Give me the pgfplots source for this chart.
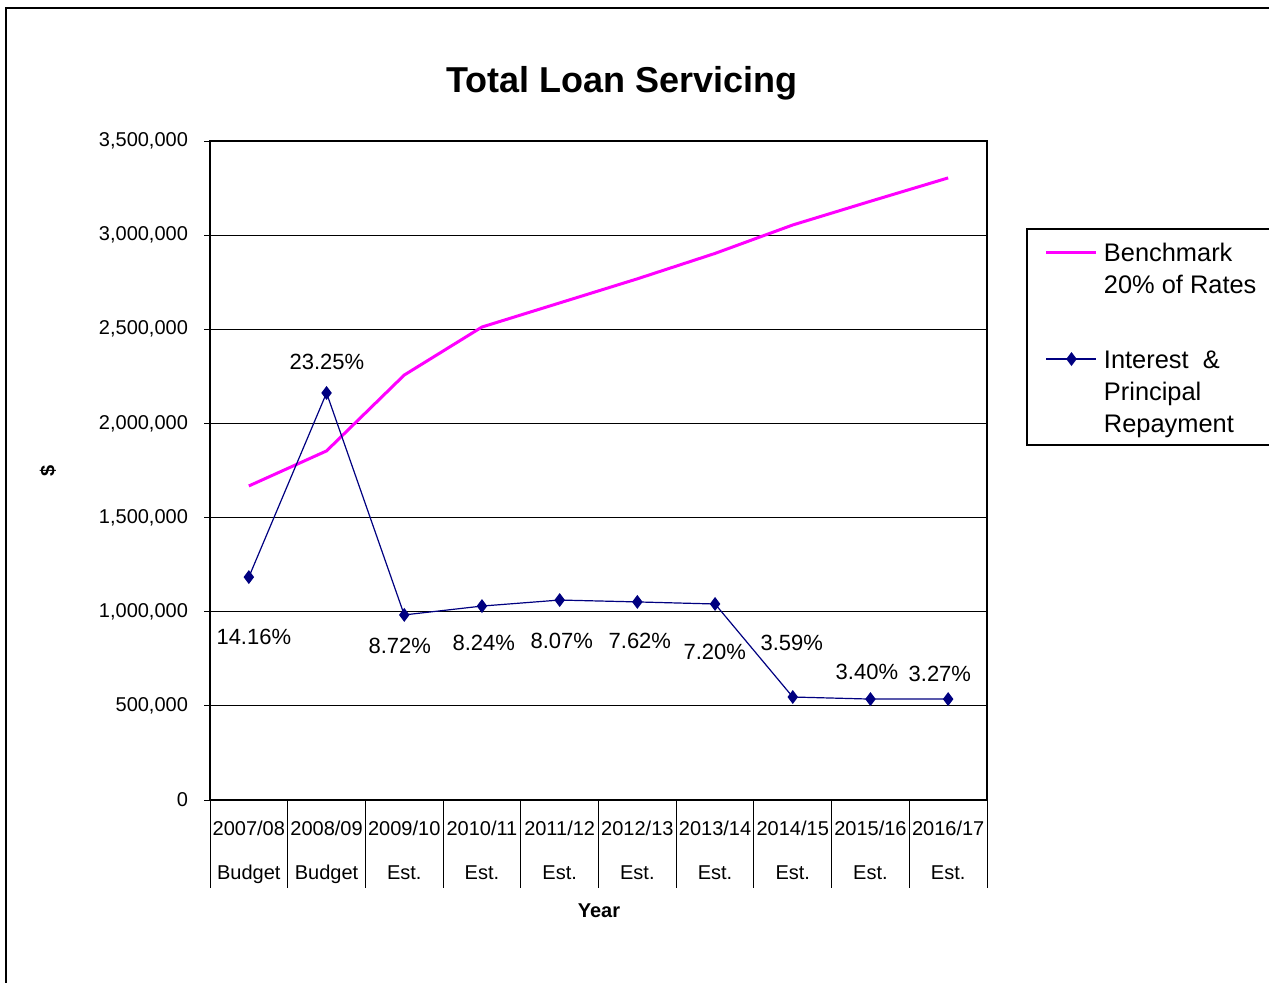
\documentclass[border=0pt]{standalone}
\usepackage{pgfplots}
\pgfplotsset{compat=1.18}
\usepackage{fontspec}
\setmainfont{Liberation Sans}
\definecolor{bench}{RGB}{255,0,255}
\definecolor{navyc}{RGB}{0,0,128}
\pgfplotsset{legend image code/.code={\draw[mark repeat=2,mark phase=2,#1] plot coordinates {(0pt,0pt) (12.5pt,0pt) (25pt,0pt)};}}
\begin{document}
\begin{tikzpicture}
\useasboundingbox (0,0) rectangle (634.5pt,-491.5pt);
% outer frame
\draw[black, line width=0.9pt] (3pt,-491.5pt) -- (3pt,-4pt) -- (634.5pt,-4pt);
\begin{axis}[
  at={(105pt,-400pt)}, anchor=south west,
  width=388.5pt, height=329.5pt, scale only axis,
  xmin=-0.5, xmax=9.5, ymin=0, ymax=3500000,
  xtick={0,1,2,3,4,5,6,7,8,9},
  xticklabels={{2007/08\\[10pt]Budget},{2008/09\\[10pt]Budget},{2009/10\\[10pt]Est.},{2010/11\\[10pt]Est.},{2011/12\\[10pt]Est.},{2012/13\\[10pt]Est.},{2013/14\\[10pt]Est.},{2014/15\\[10pt]Est.},{2015/16\\[10pt]Est.},{2016/17\\[10pt]Est.}},
  xticklabel style={align=center, font=\fontsize{10}{12}\selectfont, yshift=-4pt},
  ytick={0,500000,1000000,1500000,2000000,2500000,3000000,3500000},
  yticklabel style={font=\fontsize{10}{12}\selectfont, xshift=-4.5pt},
  /pgf/number format/.cd, fixed, 1000 sep={,}, assume math mode=true, /pgfplots/.cd,
  scaled y ticks=false,
  ymajorgrids, grid style={black, line width=0.5pt},
  axis line style={black, line width=0.8pt},
  tick align=outside, tick pos=left,
  xtick style={draw=none},
  ytick style={black, line width=0.5pt},
  major tick length=3pt,
  clip=false,
  legend cell align=left,
  legend style={at={(1.0746,0.8558)}, anchor=north west, draw=none, fill=none,
    inner sep=0pt, outer sep=0pt, row sep=0pt, column sep=3pt,
    font=\fontsize{12.7}{15}\selectfont,
    nodes={inner xsep=0pt, inner ysep=0.7pt, text height=11.8pt, text depth=2.8pt}},
]
\addplot[bench, line width=1.5pt, mark=none] table {
x y
0 1668000
1 1854000
2 2257000
3 2512000
4 2640000
5 2768000
6 2903000
7 3054000
8 3180000
9 3304000
};
\addlegendentry{Benchmark}
\addlegendimage{empty legend}\addlegendentry{20\% of Rates}
\addlegendimage{empty legend}\addlegendentry[text height=17.3pt]{}
\addplot[navyc, line width=0.6pt, mark=diamond*, mark size=3pt, mark options={solid, fill=navyc}] table {
x y
0 1184000
1 2162000
2 983000
3 1030000
4 1062000
5 1052000
6 1041000
7 547000
8 536000
9 536000
};
\addlegendentry{Interest \ \&}
\addlegendimage{empty legend}\addlegendentry{Principal}
\addlegendimage{empty legend}\addlegendentry{Repayment}
\addplot[draw=none, mark=none, forget plot, nodes near coords, point meta=explicit symbolic,
  nodes near coords style={anchor=center, inner sep=0pt, font=\fontsize{11}{13}\selectfont}] table[meta=label] {
x y label
0.064 865700 14.16\%
1.004 2326300 23.25\%
1.943 817900 8.72\%
3.024 833900 8.24\%
4.028 844500 8.07\%
5.032 844500 7.62\%
5.997 786100 7.20\%
6.988 833900 3.59\%
7.954 679800 3.40\%
8.893 669200 3.27\%
};
\end{axis}
% category separators below the x axis
\foreach \k in {0,...,10} \draw[black, line width=0.5pt] ({105pt+38.85pt*\k},-400pt) -- ++(0,-44pt);
% legend frame (open to the right, cut by the page edge)
\draw[black, line width=0.6pt] (634.5pt,-114.5pt) -- (513.5pt,-114.5pt) -- (513.5pt,-222.5pt) -- (634.5pt,-222.5pt);
% titles
\node[font=\fontsize{18}{21}\selectfont\bfseries] at (311pt,-41.5pt) {Total Loan Servicing};
\node[font=\fontsize{10}{12}\selectfont\bfseries] at (299.5pt,-455.5pt) {Year};
\node[font=\fontsize{10}{12}\selectfont\bfseries, rotate=90] at (24pt,-235.5pt) {\$};
\end{tikzpicture}
\end{document}
